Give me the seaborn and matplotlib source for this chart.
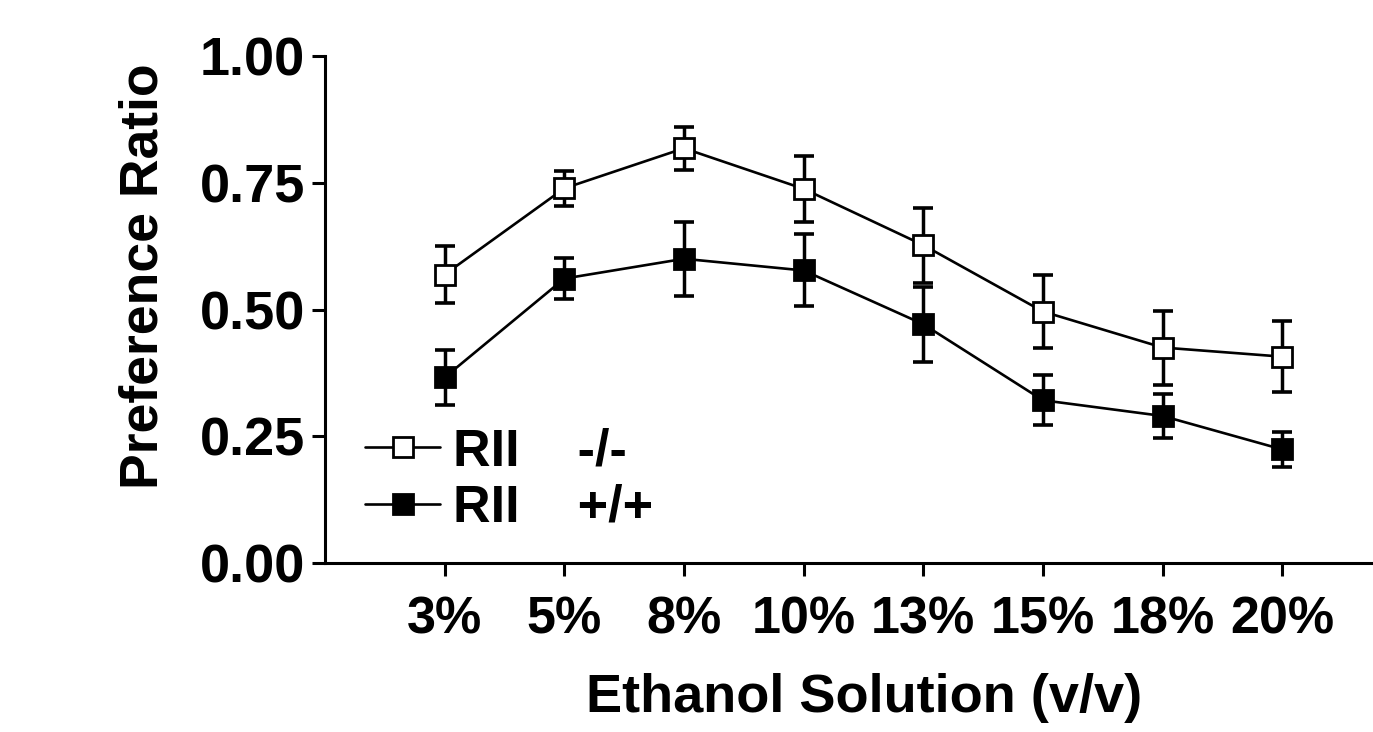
import numpy as np
import pandas as pd
import matplotlib
matplotlib.use("Agg")
import matplotlib.pyplot as plt
import seaborn as sns

# ---- data ----
concentrations = ["3%", "5%", "8%", "10%", "13%", "15%", "18%", "20%"]
ko_mean = [0.569, 0.739, 0.818, 0.738, 0.627, 0.496, 0.425, 0.407]
ko_sem = [0.056, 0.035, 0.042, 0.065, 0.074, 0.072, 0.073, 0.070]
wt_mean = [0.366, 0.561, 0.600, 0.577, 0.471, 0.321, 0.290, 0.224]
wt_sem = [0.054, 0.041, 0.073, 0.071, 0.074, 0.049, 0.043, 0.035]
ko_label = "RII    -/-"
wt_label = "RII    +/+"
y_ticks = [0.0, 0.25, 0.5, 0.75, 1.0]
y_ticklabels = ["0.00", "0.25", "0.50", "0.75", "1.00"]
x_title = "Ethanol Solution (v/v)"
y_title = "Preference Ratio"

sns.set_theme(style="ticks")
plt.rcParams['font.family'] = ['Liberation Sans', 'DejaVu Sans']
plt.rcParams['font.weight'] = 'bold'
plt.rcParams['text.color'] = 'black'
plt.rcParams['axes.labelcolor'] = 'black'

W, H = 1373, 732
fig = plt.figure(figsize=(W / 100, H / 100), dpi=100)
ax = fig.add_axes([325 / W, 1 - 563 / H, (1372 - 325) / W, (563 - 56) / H])

x = np.arange(len(concentrations))
df = pd.DataFrame({
    "x": np.concatenate([x, x]),
    "y": ko_mean + wt_mean,
    "group": [ko_label] * len(x) + [wt_label] * len(x),
})

lw = 1.9
for m, e in [(ko_mean, ko_sem), (wt_mean, wt_sem)]:
    ax.errorbar(x, m, yerr=e, fmt='none', ecolor='black', elinewidth=2.5,
                capsize=7.5, capthick=2.6, zorder=2)

sns.lineplot(data=df[df.group == ko_label], x="x", y="y", ax=ax, color='black',
             linewidth=lw, marker='s', markersize=14.5, markerfacecolor='white',
             markeredgecolor='black', markeredgewidth=2.0, label=ko_label, zorder=3)
sns.lineplot(data=df[df.group == wt_label], x="x", y="y", ax=ax, color='black',
             linewidth=lw, marker='s', markersize=14.5, markerfacecolor='black',
             markeredgecolor='black', markeredgewidth=2.0, label=wt_label, zorder=3)

ax.set_xlim(-1.0, 7.75)
ax.set_ylim(0, 1.0)
ax.set_xticks(x)
ax.set_xticklabels(concentrations, fontsize=37.5, fontweight='bold')
ax.set_yticks(y_ticks)
ax.set_yticklabels(y_ticklabels, fontsize=39, fontweight='bold')

for s in ['top', 'right']:
    ax.spines[s].set_visible(False)
for s in ['left', 'bottom']:
    ax.spines[s].set_linewidth(2.2)
    ax.spines[s].set_color('black')
ax.tick_params(axis='both', direction='out', length=9.5, width=2.2, color='black', labelcolor='black')
ax.tick_params(axis='y', pad=5)
ax.tick_params(axis='x', pad=14)

ax.set_xlabel(x_title, fontsize=39, fontweight='bold', color='black')
ax.set_ylabel(y_title, fontsize=38.5, fontweight='bold', color='black')
ax.xaxis.set_label_coords(0.515, -0.217)
ax.yaxis.set_label_coords(-0.149, 0.566)

leg = ax.legend(loc='upper left', bbox_to_anchor=(0.038, 0.268), frameon=False,
                borderaxespad=0, borderpad=0, handlelength=1.45, handletextpad=0.25,
                labelspacing=0.15, markerscale=1.0,
                prop={'size': 37.5, 'weight': 'bold', 'family': ['Liberation Sans', 'DejaVu Sans']})
for t in leg.get_texts():
    t.set_color('black')

fig.savefig("out.png", dpi=100)
